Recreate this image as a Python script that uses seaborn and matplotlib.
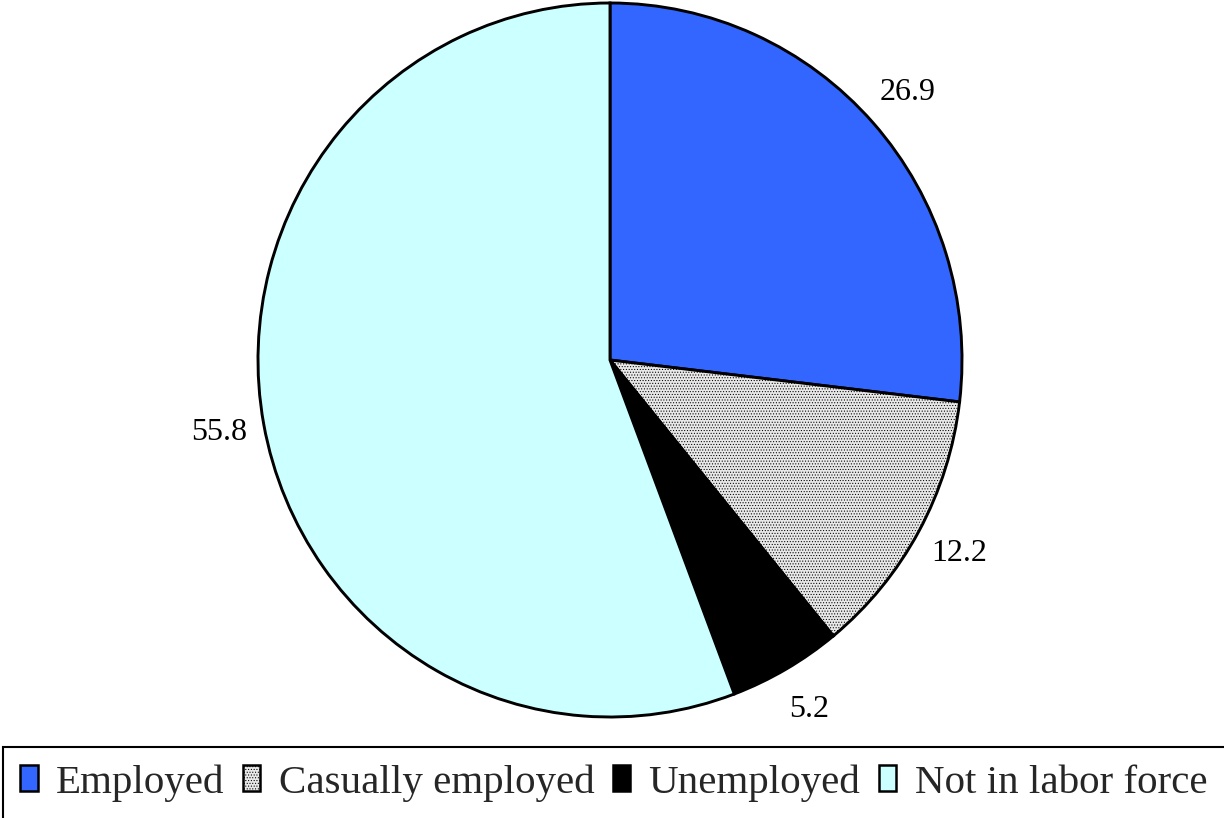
import matplotlib
matplotlib.use("Agg")
import matplotlib.pyplot as plt
from matplotlib.patches import Rectangle
import numpy as np
import seaborn as sns

# data
categories = ["Employed", "Casually employed", "Unemployed", "Not in labor force"]
shares = [26.9, 12.2, 5.2, 55.8]
value_labels = ["26.9", "12.2", "5.2", "55.8"]
colors = ["#3366FF", "#E8E8E8", "#000000", "#CCFFFF"]
hatches = [None, "......", None, None]

sns.set_theme(style="white")
plt.rcParams["font.family"] = ["Liberation Serif", "DejaVu Serif"]
plt.rcParams["hatch.linewidth"] = 0.45

fig = plt.figure(figsize=(12.24, 8.18), dpi=100)
ax = fig.add_axes([258 / 1224, 101 / 818, 704 / 1224, 714 / 818])

wedges, texts = ax.pie(
    shares,
    labels=value_labels,
    colors=sns.color_palette(colors),
    startangle=90,
    counterclock=False,
    labeldistance=1.13,
    wedgeprops=dict(edgecolor="black", linewidth=2.1),
    textprops=dict(fontsize=23, color="black"),
)
for w, h in zip(wedges, hatches):
    if h:
        w.set_hatch(h)
for t in texts:
    t.set_horizontalalignment("center")
    t.set_verticalalignment("center")

ax.set_aspect("auto")
ax.set_xlim(-1.0, 1.0)
ax.set_ylim(-1.0, 1.0)

# legend strip along the bottom
fig.patches.append(Rectangle((3 / 1224, -0.01), 1.0, 0.0968, transform=fig.transFigure,
                             facecolor="none", edgecolor="black", linewidth=1.5))
leg = fig.legend(
    wedges, categories,
    loc="center left", bbox_to_anchor=(0 / 1224, 35 / 818),
    ncol=4, frameon=False, fontsize=29.5,
    handlelength=0.42, handleheight=0.6, handletextpad=0.45,
    columnspacing=0.45, borderpad=0.0,
)
for hnd in leg.legend_handles:
    hnd.set_linewidth(1.8)

fig.savefig("out.png", dpi=100)
